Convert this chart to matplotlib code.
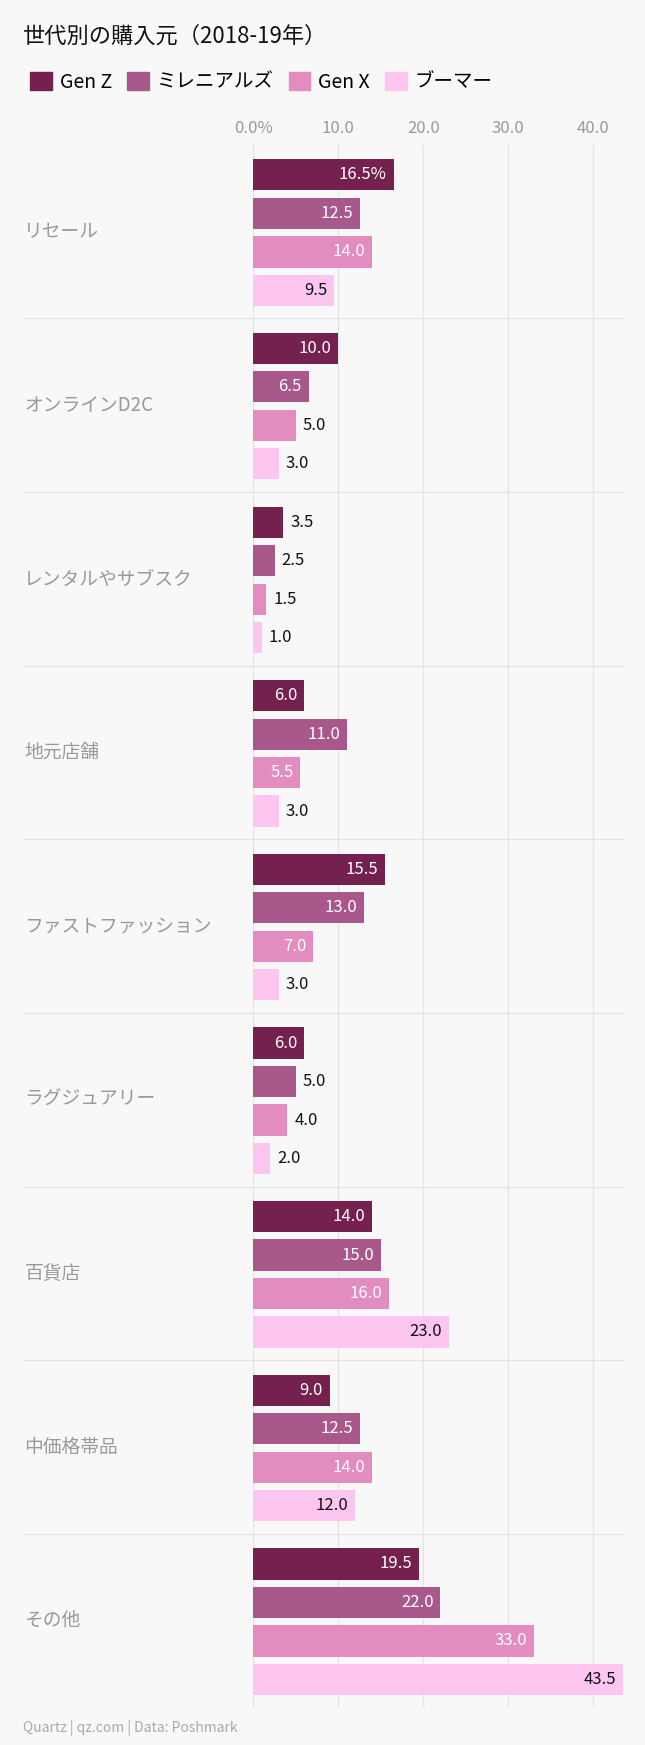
import matplotlib.pyplot as plt
from matplotlib.patches import Patch

plt.rcParams['font.family'] = 'Noto Sans CJK JP'

# data
categories = ['リセール', 'オンラインD2C', 'レンタルやサブスク', '地元店舗', 'ファストファッション',
              'ラグジュアリー', '百貨店', '中価格帯品', 'その他']
series = ['Gen Z', 'ミレニアルズ', 'Gen X', 'ブーマー']
gen_z = [16.5, 10.0, 3.5, 6.0, 15.5, 6.0, 14.0, 9.0, 19.5]
millennials = [12.5, 6.5, 2.5, 11.0, 13.0, 5.0, 15.0, 12.5, 22.0]
gen_x = [14.0, 5.0, 1.5, 5.5, 7.0, 4.0, 16.0, 14.0, 33.0]
boomers = [9.5, 3.0, 1.0, 3.0, 3.0, 2.0, 23.0, 12.0, 43.5]
ticks = [0, 10, 20, 30, 40]
tick_labels = ['0.0%', '10.0', '20.0', '30.0', '40.0']

colors = ['#74214f', '#a8588a', '#e38cbf', '#fdc6f0']
inside_text = ['white', 'white', 'white', '#111111']
bg = '#f8f8f8'
values = [gen_z, millennials, gen_x, boomers]
offsets = [0.173, 0.394, 0.617, 0.837]

fig = plt.figure(figsize=(6.45, 17.45), dpi=100, facecolor=bg)
ax = fig.add_axes([0.393, 0.0215, 0.5725, 0.8955], facecolor=bg)

for s, (vals, col, off) in enumerate(zip(values, colors, offsets)):
    for g, v in enumerate(vals):
        y = g + off
        ax.barh(y, v, height=0.18, color=col, zorder=3)
        lab = f'{v:.1f}' + ('%' if (g == 0 and s == 0) else '')
        if v > 5:
            ax.text(v - 0.8, y, lab, ha='right', va='center', color=inside_text[s], fontsize=12, zorder=4)
        else:
            ax.text(v + 0.8, y, lab, ha='left', va='center', color='#111111', fontsize=12, zorder=4)

for g, c in enumerate(categories):
    ax.text(-27, g + 0.5, c, ha='left', va='center', fontsize=13.5, color='#999999')
    if g > 0:
        ax.plot([-27, 43.5], [g, g], color='#e4e4e4', lw=1, clip_on=False, zorder=1)

ax.set_xlim(0, 43.5)
ax.set_ylim(len(categories), 0)
ax.set_xticks(ticks)
ax.set_xticklabels(tick_labels, fontsize=12, color='#999999')
ax.xaxis.tick_top()
ax.tick_params(axis='x', length=0, pad=6)
ax.set_yticks([])
ax.grid(axis='x', color='#e4e4e4', lw=1, zorder=0)
for sp in ax.spines.values():
    sp.set_visible(False)

fig.text(0.035, 0.979, '世代別の購入元（2018-19年）', fontsize=16, ha='left', va='center', color='#111111')
handles = [Patch(color=c) for c in colors]
fig.legend(handles, series, ncol=4, loc='center left', bbox_to_anchor=(0.02, 0.953), frameon=False,
           handlelength=1.1, handleheight=1.1, handletextpad=0.4, columnspacing=0.8, fontsize=14)
fig.text(0.035, 0.0095, 'Quartz | qz.com | Data: Poshmark', fontsize=10, color='#aaaaaa', ha='left', va='center')

fig.savefig('out.png', dpi=100, facecolor=bg)
